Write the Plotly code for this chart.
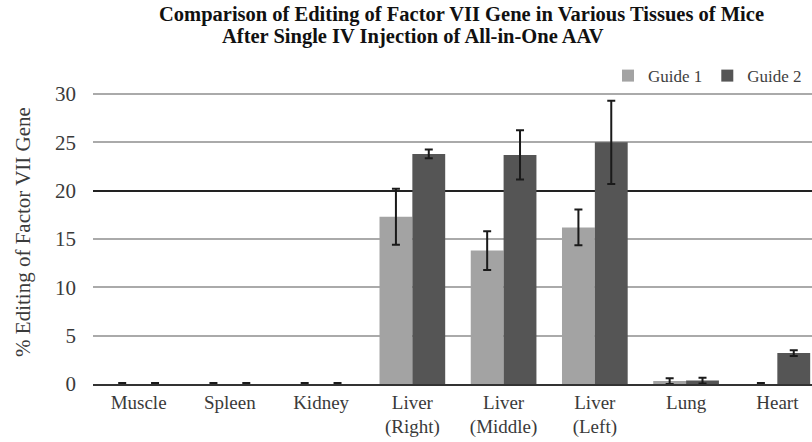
import plotly.graph_objects as go

categories = ["Muscle", "Spleen", "Kidney", "Liver<br>(Right)", "Liver<br>(Middle)",
              "Liver<br>(Left)", "Lung", "Heart"]
guide1 = [0.0, 0.0, 0.0, 17.3, 13.8, 16.2, 0.3, 0.0]
guide1_err = [0.1, 0.1, 0.1, 2.9, 2.0, 1.85, 0.3, 0.1]
guide2 = [0.0, 0.0, 0.0, 23.8, 23.7, 25.0, 0.35, 3.2]
guide2_err = [0.1, 0.1, 0.1, 0.45, 2.55, 4.3, 0.3, 0.3]
yticks = [0, 5, 10, 15, 20, 25, 30]

SERIF = "Liberation Serif, Times New Roman, serif"

fig = go.Figure()
fig.add_trace(go.Bar(
    name="Guide 1", x=categories, y=guide1,
    marker=dict(color="#a3a3a3", line=dict(width=0)),
    error_y=dict(type="data", array=guide1_err, visible=True,
                 color="#1a1a1a", thickness=2, width=4),
))
fig.add_trace(go.Bar(
    name="Guide 2", x=categories, y=guide2,
    marker=dict(color="#555555", line=dict(width=0)),
    error_y=dict(type="data", array=guide2_err, visible=True,
                 color="#1a1a1a", thickness=2, width=4),
))
# invisible helper trace on an overlay axis to draw the darker 20 gridline
fig.add_trace(go.Scatter(x=categories, y=[None] * len(categories), yaxis="y2",
                         showlegend=False, hoverinfo="skip"))

fig.update_layout(
    width=812, height=442,
    margin=dict(l=93, r=0, t=80, b=58, autoexpand=False),
    paper_bgcolor="white", plot_bgcolor="white",
    barmode="group", bargap=0.28, bargroupgap=0.0,
    font=dict(family=SERIF, size=19, color="#3a3a3a"),
    showlegend=True,
    legend=dict(orientation="h", x=(608 - 93) / 719, xanchor="left",
                y=1.013, yanchor="middle",
                font=dict(family=SERIF, size=17, color="#404040"),
                itemwidth=30, bgcolor="rgba(0,0,0,0)", traceorder="normal"),
    xaxis=dict(range=[-0.5, 7.38], showgrid=False, showline=True, automargin=False,
               linecolor="#333333", linewidth=1.5, ticks="",
               tickfont=dict(family=SERIF, size=19, color="#3a3a3a")),
    yaxis=dict(range=[0, 31.45], tickvals=yticks, showgrid=True, automargin=False,
               gridcolor="#aaaaaa", gridwidth=1.5, zeroline=False,
               showline=False, ticks="", ticklabelstandoff=16,
               tickfont=dict(family=SERIF, size=21, color="#3a3a3a"),
               title=dict(text="% Editing of Factor VII Gene",
                          font=dict(family=SERIF, size=21, color="#3a3a3a"),
                          standoff=18)),
    yaxis2=dict(range=[0, 31.45], overlaying="y", tickvals=[20], showgrid=True,
                gridcolor="#222222", gridwidth=1.5, showticklabels=False,
                zeroline=False, showline=False, automargin=False),
    annotations=[
        dict(text="<b>Comparison of Editing of Factor VII Gene in Various Tissues of Mice</b>",
             xref="paper", yref="paper", x=(461 - 93) / 719, y=(384 - 14) / 304,
             xanchor="center", yanchor="middle", showarrow=False,
             font=dict(family=SERIF, size=20.5, color="#111111")),
        dict(text="<b>After Single IV Injection of All-in-One AAV</b>",
             xref="paper", yref="paper", x=(413 - 93) / 719, y=(384 - 36) / 304,
             xanchor="center", yanchor="middle", showarrow=False,
             font=dict(family=SERIF, size=20.5, color="#111111")),
    ],
)

fig.write_html("out.html", config={"displayModeBar": False},
               post_script="document.body.style.margin='0';")
